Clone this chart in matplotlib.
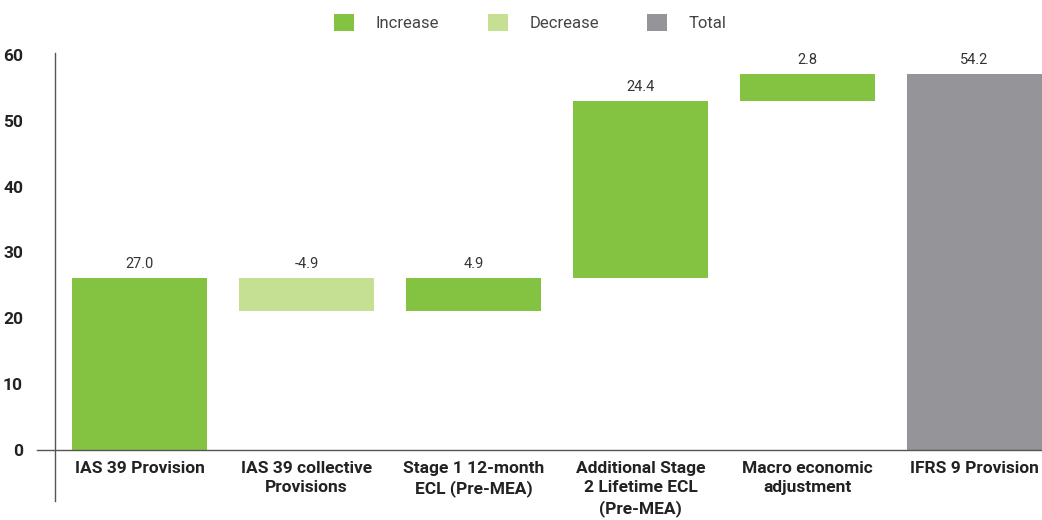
import numpy as np
import matplotlib
matplotlib.use("Agg")
import matplotlib.pyplot as plt
from matplotlib.patches import Patch

# waterfall steps as drawn in the picture, plus the printed labels
categories = ["IAS 39 Provision", "IAS 39 collective\nProvisions",
              "Stage 1 12-month\nECL (Pre-MEA)", "Additional Stage\n2 Lifetime ECL\n(Pre-MEA)",
              "Macro economic\nadjustment", "IFRS 9 Provision"]
steps = [26.1, -5.0, 5.0, 26.9, 4.1, 57.1]
kinds = ["increase", "decrease", "increase", "increase", "increase", "total"]
value_labels = ["27.0", "-4.9", "4.9", "24.4", "2.8", "54.2"]

COLORS = {"increase": "#84C341", "decrease": "#C5DF93", "total": "#959599"}
LEGEND = [("Increase", "increase"), ("Decrease", "decrease"), ("Total", "total")]

plt.rcParams["font.family"] = ["Roboto", "DejaVu Sans"]

fig = plt.figure(figsize=(10.42, 5.2), dpi=100)
ax = fig.add_axes([55 / 1042, 19 / 520, 987 / 1042, 448 / 520])

# bottoms / heights of the floating bars
bottoms, heights = [], []
running = 0.0
for s, k in zip(steps, kinds):
    if k == "total":
        bottoms.append(0.0); heights.append(s)
        running = s
    else:
        bottoms.append(min(running, running + s)); heights.append(abs(s))
        running += s

x = np.arange(len(categories))
ax.bar(x, heights, bottom=bottoms, width=0.81,
       color=[COLORS[k] for k in kinds], zorder=2)

for i, (b, h, lab) in enumerate(zip(bottoms, heights, value_labels)):
    ax.annotate(lab, (x[i], b + h), xytext=(0, 5), textcoords="offset points",
                ha="center", va="bottom", fontsize=10.5, color="#333333")

for i, cat in enumerate(categories):
    ax.text(x[i], -1.6, cat, ha="center", va="top", fontsize=12.5,
            fontweight="bold", color="#222222", linespacing=1.36)

ax.set_xlim(-0.506, 5.405)
ax.set_ylim(-7.75, 60.3)
ax.set_yticks(range(0, 61, 10))
ax.set_yticklabels([str(v) for v in range(0, 61, 10)], fontsize=12.5,
                   fontweight="bold", color="#222222")
ax.tick_params(axis="y", length=0, pad=23)
ax.set_xticks([])

for side in ["top", "right", "bottom"]:
    ax.spines[side].set_visible(False)
ax.spines["left"].set_color("#555555")
ax.spines["left"].set_linewidth(1.0)

# zero line reaching a little left of the axis
ax.plot([-18 / 987, 1.0], [0, 0], color="#555555", lw=1.0,
        transform=ax.get_yaxis_transform(), clip_on=False, zorder=3)

handles = [Patch(facecolor=COLORS[k], edgecolor="none", label=n) for n, k in LEGEND]
fig.legend(handles=handles, loc="center", bbox_to_anchor=(0.509, 0.956), ncol=3,
           frameon=False, fontsize=12, handlelength=1.2, handleheight=1.2,
           handletextpad=1.3, columnspacing=2.9, labelcolor="#444444")

fig.savefig("out.png", dpi=100)
